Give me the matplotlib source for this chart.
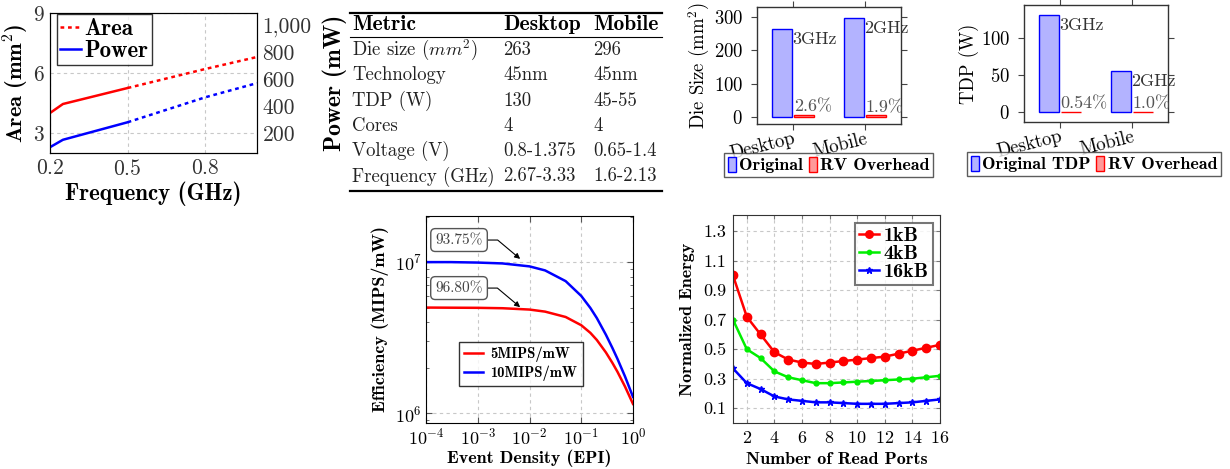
import matplotlib
matplotlib.use('Agg')
import matplotlib.pyplot as plt
import numpy as np
from matplotlib.ticker import FuncFormatter, FixedLocator, LogLocator, NullFormatter
from matplotlib.lines import Line2D

plt.rcParams['font.family'] = ['cmr10', 'DejaVu Serif']
plt.rcParams['mathtext.fontset'] = 'cm'
plt.rcParams['axes.formatter.use_mathtext'] = True
plt.rcParams['axes.unicode_minus'] = False
BOLD = ['cmb10', 'DejaVu Serif']

# ---------------- data ----------------
# Panel 1: area / power vs frequency
freq_solid = [0.2, 0.25, 0.5]
area_solid = [4.0, 4.45, 5.25]
power_solid = [95, 150, 280]
freq_dot = [0.5, 0.8, 1.0]
area_dot = [5.25, 6.2, 6.8]
power_dot = [280, 465, 570]

# Panel 2: table
table_header = ['Metric', 'Desktop', 'Mobile']
metrics = ['Die size ($mm^2$)', 'Technology', 'TDP (W)', 'Cores', 'Voltage (V)', 'Frequency (GHz)']
desktop_spec = ['263', '45nm', '130', '4', '0.8-1.375', '2.67-3.33']
mobile_spec = ['296', '45nm', '45-55', '4', '0.65-1.4', '1.6-2.13']

# Panels 3/4: bars
platforms = ['Desktop', 'Mobile']
freq_labels = ['3GHz', '2GHz']
die_size = [263, 296]
die_overhead_pct = [2.6, 1.9]
tdp = [130, 55]
tdp_overhead_pct = [0.54, 1.0]

# Panel 5: efficiency vs event density
epi = [1e-4, 3e-4, 1e-3, 3e-3, 1e-2, 2e-2, 5e-2, 0.1, 0.15, 0.2, 0.3, 0.4, 0.5, 0.7, 1.0]
eff_5 = [5.0e6, 4.99e6, 4.98e6, 4.95e6, 4.85e6, 4.70e6, 4.33e6, 3.82e6, 3.40e6,
         3.05e6, 2.52e6, 2.15e6, 1.88e6, 1.50e6, 1.15e6]
eff_10 = [1.0e7, 1.0e7, 9.93e6, 9.80e6, 9.37e6, 8.81e6, 7.48e6, 5.97e6, 4.97e6,
          4.26e6, 3.30e6, 2.70e6, 2.29e6, 1.75e6, 1.28e6]

# Panel 6: normalized energy vs read ports
ports = list(range(1, 17))
energy_1kb = [1.0, 0.72, 0.60, 0.48, 0.43, 0.41, 0.40, 0.41, 0.42, 0.43, 0.44, 0.45, 0.47, 0.49, 0.51, 0.53]
energy_4kb = [0.70, 0.50, 0.44, 0.35, 0.31, 0.29, 0.27, 0.27, 0.275, 0.28, 0.285, 0.29, 0.295, 0.30, 0.31, 0.32]
energy_16kb = [0.37, 0.27, 0.23, 0.18, 0.16, 0.15, 0.14, 0.14, 0.135, 0.13, 0.13, 0.13, 0.135, 0.14, 0.15, 0.16]

# ---------------- figure ----------------
W, H = 1230, 469
fig = plt.figure(figsize=(W / 100, H / 100), dpi=100)


def ax_px(l, t, r, b):
    return fig.add_axes([l / W, 1 - b / H, (r - l) / W, (b - t) / H])


GRID = dict(color='#c8c8c8', linestyle=(0, (3, 3)), linewidth=0.8)

# ---- Panel 1 ----
ax1 = ax_px(50, 13, 257, 153)
ax1b = ax1.twinx()
ax1.plot(freq_solid, area_solid, color='red', lw=1.8)
ax1.plot(freq_dot, area_dot, color='red', lw=1.8, linestyle=(0, (1.5, 1.5)))
ax1b.plot(freq_solid, power_solid, color='blue', lw=1.8)
ax1b.plot(freq_dot, power_dot, color='blue', lw=1.8, linestyle=(0, (1.5, 1.5)))
ax1.set_xlim(0.2, 1.0)
ax1.set_ylim(2, 9)
ax1b.set_ylim(52, 1090)
ax1.set_xticks([0.2, 0.5, 0.8])
ax1.set_yticks([3, 6, 9])
ax1b.set_yticks([200, 400, 600, 800, 1000])
ax1b.yaxis.set_major_formatter(FuncFormatter(lambda v, p: f'{int(v):,}'))
ax1.grid(True, **GRID)
ax1.set_axisbelow(True)
for a in (ax1, ax1b):
    a.tick_params(length=0, labelsize=15.5, colors='#333333', pad=4)
ax1.set_xlabel('Frequency (GHz)', fontfamily=BOLD, fontsize=16.5, labelpad=2)
ax1.set_ylabel('Area (mm${}^2$)', fontfamily=BOLD, fontsize=16, labelpad=1)
ax1b.set_ylabel('Power (mW)', fontfamily=BOLD, fontsize=17, labelpad=8)
h1 = [Line2D([], [], color='red', lw=1.8, linestyle=(0, (1.5, 1.5))),
      Line2D([], [], color='blue', lw=1.8)]
leg1 = ax1b.legend(h1, ['Area', 'Power'], loc='upper left', bbox_to_anchor=(0.034, 0.99),
                   prop=dict(family=BOLD, size=16.5), frameon=True, fancybox=False,
                   edgecolor='black', borderpad=0.15, handlelength=0.9, handletextpad=0.15,
                   labelspacing=0.0, borderaxespad=0)
leg1.get_frame().set_linewidth(1.0)

# ---- Panel 2: table ----
axt = ax_px(340, 0, 680, 200)
axt.set_xlim(340, 680)
axt.set_ylim(200, 0)
axt.axis('off')
col_x = [352, 503, 593]
axt.plot([350, 662], [13, 13], color='black', lw=1.6)
axt.plot([350, 662], [37, 37], color='black', lw=0.8)
axt.plot([350, 662], [191, 191], color='black', lw=1.6)
for cx, txt in zip(col_x, table_header):
    axt.text(cx, 25, txt, fontfamily=BOLD, fontsize=15.5, va='center', ha='left')
for i, row in enumerate(zip(metrics, desktop_spec, mobile_spec)):
    y = 50 + i * 25.3
    for cx, txt in zip(col_x, row):
        axt.text(cx, y, txt, fontsize=13.5, va='center', ha='left', color='#222222')


# ---- Panels 3/4: bar charts ----
def bar_panel(box, vals, pcts, ylim, yticks, ylabel, orig_label, leg_box):
    ax = ax_px(*box)
    x = np.arange(len(platforms))
    w, off = 0.28, 0.15
    overhead = [v * p / 100 for v, p in zip(vals, pcts)]
    b1 = ax.bar(x - off, vals, width=w, color='#b3b3ff', edgecolor='blue', lw=1.0)
    b2 = ax.bar(x + off, overhead, width=w, color='#ff9999', edgecolor='red', lw=1.0)
    for xi, v, fl in zip(x, vals, freq_labels):
        ax.text(xi - off + w / 2, v - (ylim[1] - ylim[0]) * 0.02, fl, fontsize=13,
                ha='left', va='top', color='#333333')
    for xi, o, p in zip(x, overhead, pcts):
        ax.text(xi + off - w / 2, o, f'{p}%', fontsize=13, ha='left', va='bottom',
                color='#555555')
    ax.set_xlim(-0.5, 1.5)
    ax.set_ylim(*ylim)
    ax.set_xticks(x)
    ax.set_xticklabels(platforms, rotation=14, ha='right', va='top', rotation_mode='anchor',
                       fontsize=13.5)
    ax.set_yticks(yticks)
    ax.tick_params(direction='out', length=4, width=0.8, color='#444444', labelsize=13.5,
                   top=True, right=True, pad=6)
    ax.tick_params(axis='x', pad=0)
    ax.set_ylabel(ylabel, fontsize=13.5, labelpad=1)
    for s in ax.spines.values():
        s.set_linewidth(1.0)
        s.set_color('#333333')
    leg = ax.legend([b1, b2], [orig_label, 'RV Overhead'], ncol=2, loc='upper left',
                    bbox_to_anchor=(leg_box[0] / W, 1 - leg_box[1] / H),
                    bbox_transform=fig.transFigure, prop=dict(family=BOLD, size=13),
                    fancybox=False, edgecolor='#333333', borderpad=0.2, handlelength=0.45,
                    handleheight=0.9, handletextpad=0.2, columnspacing=0.3, borderaxespad=0)
    leg.get_frame().set_linewidth(1.0)
    return ax


bar_panel((757, 7, 901, 124), die_size, die_overhead_pct, (-21, 330), [0, 100, 200, 300],
          'Die Size (mm${}^2$)', 'Original', (724, 153))
bar_panel((1024, 5, 1168, 122), tdp, tdp_overhead_pct, (-13.4, 144), [0, 50, 100],
          'TDP (W)', 'Original TDP', (967, 152))

# ---- Panel 5: efficiency ----
ax5 = ax_px(426, 216, 633, 423)
ax5.plot(epi, eff_5, color='red', lw=1.8, label='5MIPS/mW')
ax5.plot(epi, eff_10, color='blue', lw=1.8, label='10MIPS/mW')
ax5.set_xscale('log')
ax5.set_yscale('log')
ax5.set_xlim(1e-4, 1.0)
ax5.set_ylim(8.6e5, 2.02e7)
ax5.xaxis.set_major_locator(LogLocator(base=10, numticks=10))
ax5.yaxis.set_major_locator(FixedLocator([1e6, 1e7]))
ax5.yaxis.set_minor_locator(LogLocator(base=10, subs=np.arange(2, 10), numticks=10))
ax5.yaxis.set_minor_formatter(NullFormatter())
ax5.grid(True, which='major', **GRID)
ax5.set_axisbelow(True)
ax5.tick_params(which='both', direction='in', top=True, right=True, color='#555555')
ax5.tick_params(which='major', length=4, labelsize=13, pad=3)
ax5.tick_params(which='minor', length=2.5)
ax5.set_xlabel('Event Density (EPI)', fontfamily=BOLD, fontsize=13, labelpad=1)
ax5.set_ylabel('Efficiency (MIPS/mW)', fontfamily=BOLD, fontsize=13, labelpad=4)
ann_kw = dict(fontsize=11, color='#444444', ha='center', va='center',
              bbox=dict(boxstyle='round,pad=0.3,rounding_size=0.3', fc='white', ec='#555555', lw=1.0),
              arrowprops=dict(arrowstyle='-|>', color='black', lw=0.8, mutation_scale=8,
                              connectionstyle='angle,angleA=0,angleB=-40,rad=0',
                              shrinkA=0, shrinkB=0))
ax5.annotate('93.75%', xy=(6.6e-3, 1.05e7), xytext=(4.35e-4, 1.40e7), **ann_kw)
ax5.annotate('96.80%', xy=(6.6e-3, 5.03e6), xytext=(4.35e-4, 6.73e6), **ann_kw)
leg5 = ax5.legend(loc='lower left', bbox_to_anchor=(0.16, 0.18), prop=dict(family=BOLD, size=10.5),
                  fancybox=False, edgecolor='black', borderpad=0.35, handlelength=1.3,
                  handletextpad=0.5, labelspacing=0.2, borderaxespad=0)
leg5.get_frame().set_linewidth(1.0)

# ---- Panel 6: normalized energy ----
ax6 = ax_px(733, 215, 940, 423)
ax6.plot(ports, energy_1kb, color='red', lw=1.8, marker='o', ms=6, label='1kB')
ax6.plot(ports, energy_4kb, color='#00ee00', lw=1.8, marker='o', ms=3.5, label='4kB')
ax6.plot(ports, energy_16kb, color='blue', lw=1.8, marker='*', ms=5, label='16kB')
ax6.set_xlim(1, 16)
ax6.set_ylim(0, 1.41)
ax6.set_xticks(range(2, 17, 2))
ax6.set_yticks([0.1, 0.3, 0.5, 0.7, 0.9, 1.1, 1.3])
ax6.yaxis.set_major_formatter(FuncFormatter(lambda v, p: f'{v:.1f}'))
ax6.grid(True, **GRID)
ax6.set_axisbelow(True)
ax6.tick_params(direction='in', length=3, top=True, right=True, color='#777777',
                labelsize=13, pad=5)
for s in ax6.spines.values():
    s.set_color('#333333')
ax6.set_xlabel('Number of Read Ports', fontfamily=BOLD, fontsize=13, labelpad=4)
ax6.set_ylabel('Normalized Energy', fontfamily=BOLD, fontsize=13, labelpad=6)
leg6 = ax6.legend(loc='upper right', bbox_to_anchor=(0.966, 0.962), prop=dict(family=BOLD, size=14.5),
                  fancybox=False, edgecolor='#555555', borderpad=0.2, handlelength=1.0,
                  handletextpad=0.25, labelspacing=0.0, borderaxespad=0, markerscale=0.9)
leg6.get_frame().set_linewidth(1.5)

fig.savefig('out.png', dpi=100)
